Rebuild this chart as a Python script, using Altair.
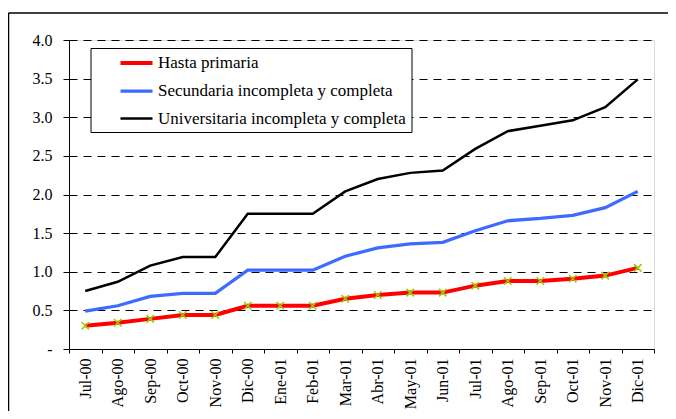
import altair as alt
import pandas as pd

months = ["Jul-00", "Ago-00", "Sep-00", "Oct-00", "Nov-00", "Dic-00", "Ene-01", "Feb-01",
          "Mar-01", "Abr-01", "May-01", "Jun-01", "Jul-01", "Ago-01", "Sep-01", "Oct-01",
          "Nov-01", "Dic-01"]
series_names = ["Hasta primaria", "Secundaria incompleta y completa",
                "Universitaria incompleta y completa"]
primaria = [0.30, 0.34, 0.39, 0.44, 0.44, 0.56, 0.56, 0.56, 0.65, 0.70, 0.73, 0.73,
            0.82, 0.88, 0.88, 0.91, 0.95, 1.05]
secundaria = [0.49, 0.56, 0.68, 0.72, 0.72, 1.02, 1.02, 1.02, 1.20, 1.31, 1.36, 1.38,
              1.53, 1.66, 1.69, 1.73, 1.83, 2.04]
universitaria = [0.75, 0.87, 1.08, 1.19, 1.19, 1.75, 1.75, 1.75, 2.04, 2.20, 2.28, 2.31,
                 2.59, 2.82, 2.89, 2.96, 3.13, 3.49]
colors = ["#ff0000", "#3d6bff", "#000000"]
widths = [4, 2.5, 1]
y_ticks = [0, 0.5, 1.0, 1.5, 2.0, 2.5, 3.0, 3.5, 4.0]

rows = []
for name, vals in zip(series_names, [primaria, secundaria, universitaria]):
    for m, v in zip(months, vals):
        rows.append({"mes": m, "valor": v, "serie": name})
df = pd.DataFrame(rows)

FONT = "Liberation Serif"
FS = 16

x_enc = alt.X("mes:N", sort=months,
              scale=alt.Scale(type="band", paddingInner=0, paddingOuter=0),
              axis=alt.Axis(title=None, labelAngle=270, labelAlign="right",
                            labelBaseline="middle", tickBand="extent", tickSize=4,
                            labelPadding=5, domainColor="black", tickColor="black",
                            labelColor="black", labelFont=FONT, labelFontSize=FS,
                            labelOverlap=False, grid=False))
y_enc = alt.Y("valor:Q",
              scale=alt.Scale(domain=[0, 4], nice=False, zero=True),
              axis=alt.Axis(title=None, values=y_ticks, tickSize=6, labelPadding=11,
                            labelExpr="datum.value == 0 ? '-' : format(datum.value, '.1f')",
                            labelOverlap=False,
                            grid=True, gridColor="black", gridDash=[8, 6], gridWidth=1,
                            domainColor="black", tickColor="black", labelColor="black",
                            labelFont=FONT, labelFontSize=FS))

lines = alt.Chart(df).mark_line().encode(
    x=x_enc,
    y=y_enc,
    color=alt.Color("serie:N", sort=series_names,
                    scale=alt.Scale(domain=series_names, range=colors),
                    legend=alt.Legend(title=None, orient="none", legendX=21.5, legendY=8,
                                      symbolType="M-2,0H2", symbolSize=256,
                                      symbolOffset=31, labelOffset=11.5,
                                      rowPadding=10, padding=5,
                                      strokeColor="black", fillColor="white",
                                      labelFont=FONT, labelFontSize=17, labelColor="black",
                                      labelLimit=400,
                                      labelExpr="datum.label + '\u00a0\u00a0\u00a0\u00a0\u00a0\u00a0\u00a0'")),
    strokeWidth=alt.StrokeWidth("serie:N", sort=series_names,
                                scale=alt.Scale(domain=series_names, range=widths),
                                legend=None),
    order=alt.Order("serie:N", sort="descending"),
)

markers = alt.Chart(df[df["serie"] == series_names[0]]).mark_point(
    shape="M-1,-1L1,1M-1,1L1,-1", size=56, filled=False, stroke="#99cc00",
    strokeWidth=1.5, opacity=1
).encode(x=x_enc, y=y_enc)

frame = pd.DataFrame({"a": [0]})
top_edge = alt.Chart(frame).mark_rule(stroke="black", strokeWidth=1.5).encode(
    x=alt.value(-60.5), x2=alt.value(620), y=alt.value(-27))
left_edge = alt.Chart(frame).mark_rule(stroke="black", strokeWidth=1.5).encode(
    x=alt.value(-60.5), y=alt.value(-27), y2=alt.value(420))

chart = alt.layer(top_edge, left_edge, lines, markers).properties(
    width=585, height=309,
    autosize=alt.AutoSizeParams(type="none"),
    padding={"left": 61, "top": 32, "right": 14, "bottom": 62},
).configure_view(stroke=None).configure(background="white")

chart.save("out.html", embed_options={"renderer": "svg", "actions": False})
